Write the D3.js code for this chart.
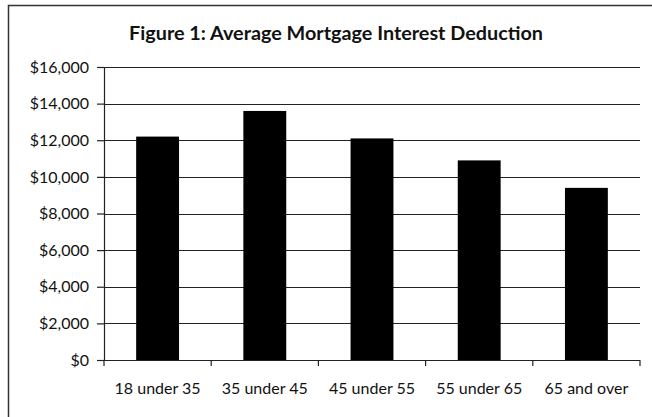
<!DOCTYPE html>
<html>
<head>
<meta charset="utf-8">
<script src="https://cdn.jsdelivr.net/npm/d3@7"></script>
<style>
  body { margin: 0; background: #fff; }
  svg text { font-family: Lato, "Open Sans", sans-serif; fill: #111; }
</style>
</head>
<body>
<svg id="chart" width="652" height="417"></svg>
<script>
// data
var groups = ["18 under 35", "35 under 45", "45 under 55", "55 under 65", "65 and over"];
var deductions = [12200, 13600, 12100, 10900, 9400];
var yTicks = [0, 2000, 4000, 6000, 8000, 10000, 12000, 14000, 16000];

var margin = { top: 67, right: 12, bottom: 57, left: 104 },
  width = 652 - margin.left - margin.right,
  height = 417 - margin.top - margin.bottom;

var svg = d3.select("#chart");

// frame (only top and left edges show in the scan)
svg.append("path")
  .attr("d", "M8.5,417 V5.5 H652")
  .attr("fill", "none")
  .attr("stroke", "#333")
  .attr("stroke-width", 1.5);

svg.append("text")
  .attr("x", 336)
  .attr("y", 40)
  .attr("text-anchor", "middle")
  .style("font-weight", "bold")
  .style("font-size", "19.8px")
  .text("Figure 1: Average Mortgage Interest Deduction");

var g = svg.append("g").attr("transform", "translate(" + margin.left + "," + margin.top + ")");

var x = d3.scaleBand().domain(groups).range([0, width]).paddingInner(0.6).paddingOuter(0.3);
var y = d3.scaleLinear().domain([0, 16000]).range([height, 0]);

// gridlines
g.append("g")
  .selectAll("line")
  .data(yTicks)
  .enter()
  .append("line")
  .attr("x1", 0)
  .attr("x2", width)
  .attr("y1", function (d) { return Math.round(y(d)) + 0.5; })
  .attr("y2", function (d) { return Math.round(y(d)) + 0.5; })
  .attr("stroke", "#222")
  .attr("stroke-width", 1.2);

// bars
g.selectAll("rect.bar")
  .data(deductions)
  .enter()
  .append("rect")
  .attr("class", "bar")
  .attr("x", function (d, i) { return x(groups[i]); })
  .attr("y", function (d) { return y(d); })
  .attr("width", x.bandwidth())
  .attr("height", function (d) { return height - y(d); })
  .attr("fill", "#000");

// y axis
var yAxis = d3.axisLeft(y)
  .tickValues(yTicks)
  .tickSize(7)
  .tickPadding(8)
  .tickFormat(function (d) { return "$" + d3.format(",")(d); });

var ya = g.append("g").call(yAxis);
ya.select(".domain").attr("stroke", "#222").attr("stroke-width", 1.2).attr("d", "M0.5," + height + "V0");
ya.selectAll(".tick line").attr("stroke", "#222").attr("stroke-width", 1.2);
ya.selectAll("text").style("font-size", "16px").attr("fill", "#111");

// x axis: ticks at category boundaries
var step = width / groups.length;
var xa = g.append("g").attr("transform", "translate(0," + height + ")");
xa.append("line")
  .attr("x1", 0).attr("x2", width)
  .attr("y1", 0.5).attr("y2", 0.5)
  .attr("stroke", "#222").attr("stroke-width", 1.2);
xa.selectAll("line.tk")
  .data(d3.range(groups.length + 1))
  .enter()
  .append("line")
  .attr("class", "tk")
  .attr("x1", function (d) { return d * step; })
  .attr("x2", function (d) { return d * step; })
  .attr("y1", 0)
  .attr("y2", 6)
  .attr("stroke", "#222").attr("stroke-width", 1.2);
xa.selectAll("text")
  .data(groups)
  .enter()
  .append("text")
  .attr("x", function (d) { return x(d) + x.bandwidth() / 2; })
  .attr("y", 34)
  .attr("text-anchor", "middle")
  .style("font-size", "16px")
  .text(function (d) { return d; });
</script>
</body>
</html>
